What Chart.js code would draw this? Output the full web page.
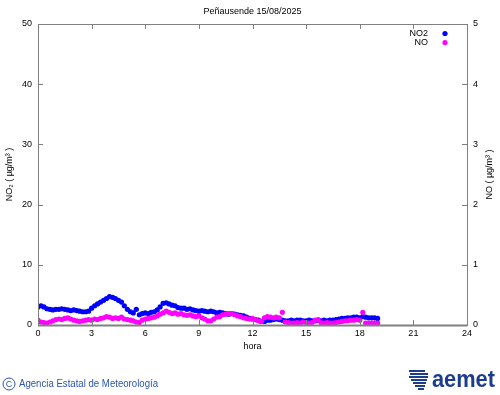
<!DOCTYPE html>
<html>
<head>
<meta charset="utf-8">
<script src="https://cdn.jsdelivr.net/npm/chart.js@4"></script>
<style>
  html, body { margin: 0; padding: 0; background: #fff; }
  #wrap { width: 500px; height: 395px; position: relative; }
</style>
</head>
<body>
<div id="wrap"><canvas id="grafica"></canvas></div>
<script>
// datos cada 10 minutos (hora local)
const horas = [
  0, 0.17, 0.33, 0.5, 0.67, 0.83, 1, 1.17, 1.33, 1.5, 1.67, 1.83,
  2, 2.17, 2.33, 2.5, 2.67, 2.83, 3, 3.17, 3.33, 3.5, 3.67, 3.83,
  4, 4.17, 4.33, 4.5, 4.67, 4.83, 5, 5.17, 5.33, 5.5, 5.67, 5.83,
  6, 6.17, 6.33, 6.5, 6.67, 6.83, 7, 7.17, 7.33, 7.5, 7.67, 7.83,
  8, 8.17, 8.33, 8.5, 8.67, 8.83, 9, 9.17, 9.33, 9.5, 9.67, 9.83,
  10, 10.17, 10.33, 10.5, 10.67, 10.83, 11, 11.17, 11.33, 11.5, 11.67, 11.83,
  12, 12.17, 12.33, 12.5, 12.67, 12.83, 13, 13.17, 13.33, 13.5, 13.67, 13.83,
  14, 14.17, 14.33, 14.5, 14.67, 14.83, 15, 15.17, 15.33, 15.5, 15.67, 15.83,
  16, 16.17, 16.33, 16.5, 16.67, 16.83, 17, 17.17, 17.33, 17.5, 17.67, 17.83,
  18, 18.17, 18.33, 18.5, 18.67, 18.83, 19
];

// NO2 (µg/m3), eje izquierdo
const no2 = [
  3.0, 3.2, 3.0, 2.7, 2.6, 2.5, 2.6, 2.6, 2.7, 2.6, 2.5, 2.4,
  2.5, 2.4, 2.3, 2.2, 2.2, 2.3, 2.8, 3.2, 3.5, 3.8, 4.1, 4.4,
  4.7, 4.6, 4.4, 4.1, 3.8, 3.2, 2.6, 2.2, 2.0, 2.6, 1.7, 1.9,
  2.0, 1.9, 2.1, 2.2, 2.5, 3.0, 3.6, 3.7, 3.5, 3.3, 3.2, 2.9,
  2.8, 2.8, 2.6, 2.7, 2.5, 2.4, 2.3, 2.4, 2.3, 2.2, 2.3, 2.2,
  2.0, 2.1, 2.0, 1.9, 1.8, 1.9, 1.8, 1.7, 1.6, 1.5, 1.3, 1.1,
  1.0, 0.9, 0.8, 0.6, 0.6, 0.8, 0.8, 0.9, 1.0, 0.9, 0.8, 0.7,
  0.7, 0.8, 0.7, 0.8, 0.8, 0.7, 0.7, 0.8, 0.7, 0.7, 0.8, 0.7,
  0.8, 0.7, 0.8, 0.8, 0.9, 1.0, 1.1, 1.1, 1.2, 1.2, 1.3, 1.3,
  1.2, 1.4, 1.3, 1.2, 1.2, 1.2, 1.1
];

// NO (µg/m3), eje derecho
const no = [
  0.08, 0.05, 0.04, 0.03, 0.05, 0.07, 0.09, 0.10, 0.09, 0.11, 0.12, 0.10,
  0.08, 0.07, 0.06, 0.07, 0.08, 0.09, 0.08, 0.10, 0.09, 0.11, 0.12, 0.14,
  0.13, 0.11, 0.12, 0.11, 0.13, 0.10, 0.09, 0.08, 0.07, 0.05, 0.04, 0.08,
  0.10, 0.11, 0.12, 0.13, 0.15, 0.18, 0.20, 0.23, 0.21, 0.19, 0.20, 0.18,
  0.19, 0.17, 0.16, 0.17, 0.15, 0.14, 0.15, 0.12, 0.10, 0.07, 0.07, 0.10,
  0.13, 0.14, 0.17, 0.18, 0.19, 0.19, 0.17, 0.15, 0.14, 0.12, 0.11, 0.10,
  0.11, 0.09, 0.07, 0.06, 0.12, 0.14, 0.13, 0.12, 0.13, 0.12, 0.21, 0.05,
  0.04, 0.03, 0.03, 0.04, 0.03, 0.05, 0.04, 0.03, 0.04, 0.08, 0.09, 0.04,
  0.03, 0.04, 0.03, 0.03, 0.04, 0.05, 0.06, 0.07, 0.07, 0.08, 0.08, 0.09,
  0.08, 0.21, 0.03, 0.03, 0.03, 0.03, 0.03
];

const titulo = 'Peñausende 15/08/2025';
const series = ['NO2', 'NO'];
const colores = ['#0000ff', '#ff00ff'];

const fuente = '"Liberation Sans", Arial, sans-serif';
const gris = '#808080';

// marco, marcas hacia dentro, titulo, leyenda y pie
const extras = {
    id: 'extras',
    afterDraw(chart) {
        const ctx = chart.ctx;
        const a = chart.chartArea;
        const sx = chart.scales.x, sy = chart.scales.y, sy1 = chart.scales.y1;
        ctx.save();

        // marcas
        ctx.strokeStyle = gris;
        ctx.lineWidth = 1;
        ctx.beginPath();
        sx.ticks.forEach(t => {
            const px = Math.round(sx.getPixelForValue(t.value)) + 0.5;
            ctx.moveTo(px, a.bottom); ctx.lineTo(px, a.bottom - 5);
            ctx.moveTo(px, a.top); ctx.lineTo(px, a.top + 5);
        });
        sy.ticks.forEach(t => {
            const py = Math.round(sy.getPixelForValue(t.value)) + 0.5;
            ctx.moveTo(a.left, py); ctx.lineTo(a.left + 5, py);
        });
        sy1.ticks.forEach(t => {
            const py = Math.round(sy1.getPixelForValue(t.value)) + 0.5;
            ctx.moveTo(a.right, py); ctx.lineTo(a.right - 5, py);
        });
        ctx.stroke();

        // marco
        ctx.strokeRect(Math.round(a.left) + 0.5, Math.round(a.top) + 0.5,
            Math.round(a.right - a.left), Math.round(a.bottom - a.top));
        ctx.lineWidth = 2;
        ctx.beginPath();
        ctx.moveTo(a.left, Math.round(a.bottom) + 0.5);
        ctx.lineTo(a.right, Math.round(a.bottom) + 0.5);
        ctx.stroke();

        // titulo
        ctx.fillStyle = '#000';
        ctx.font = '9px ' + fuente;
        ctx.textAlign = 'center';
        ctx.textBaseline = 'middle';
        ctx.fillText(titulo, (a.left + a.right) / 2, 12);

        // titulo eje derecho
        ctx.save();
        ctx.translate(490, (a.top + a.bottom) / 2);
        ctx.rotate(-Math.PI / 2);
        ctx.fillText('NO ( µg/m³ )', 0, 0);
        ctx.restore();

        // leyenda
        ctx.textAlign = 'right';
        series.forEach((s, i) => {
            const y = 33.5 + i * 9;
            ctx.fillStyle = '#000';
            ctx.fillText(s, 428, y);
            ctx.fillStyle = colores[i];
            ctx.beginPath();
            ctx.arc(445, y, 2.6, 0, Math.PI * 2);
            ctx.fill();
        });

        // pie
        ctx.fillStyle = '#2a55b0';
        ctx.strokeStyle = '#2a55b0';
        ctx.lineWidth = 1;
        ctx.beginPath();
        ctx.arc(9, 384, 6, 0, Math.PI * 2);
        ctx.stroke();
        ctx.font = '9px ' + fuente;
        ctx.textAlign = 'center';
        ctx.fillText('C', 9, 384.5);
        ctx.font = '10px ' + fuente;
        ctx.textAlign = 'left';
        ctx.fillText('Agencia Estatal de Meteorología', 19, 384, 139);

        // logo aemet
        ctx.fillStyle = '#1c3d8e';
        ctx.font = 'bold 23px ' + fuente;
        ctx.textBaseline = 'alphabetic';
        ctx.fillText('aemet', 432, 387, 63);
        const rayas = [[409, 370, 16], [410, 373, 18], [409, 376, 19], [411, 379, 16], [413, 382, 13], [415, 385, 10], [418, 388, 6]];
        rayas.forEach(r => ctx.fillRect(r[0], r[1], r[2], 2));
        ctx.restore();
    }
};

new Chart(document.getElementById('grafica'), {
    type: 'scatter',
    data: {
        datasets: [
            {
                label: series[0],
                data: horas.map((h, i) => ({ x: h, y: no2[i] })),
                backgroundColor: colores[0],
                borderWidth: 0,
                pointRadius: 2.6,
                yAxisID: 'y',
                order: 1
            },
            {
                label: series[1],
                data: horas.map((h, i) => ({ x: h, y: no[i] })),
                backgroundColor: colores[1],
                borderWidth: 0,
                pointRadius: 2.6,
                yAxisID: 'y1',
                order: 0
            }
        ]
    },
    options: {
        responsive: true,
        maintainAspectRatio: false,
        animation: false,
        layout: { padding: { top: 24, left: 0, right: 0, bottom: 43 } },
        plugins: {
            legend: { display: false },
            tooltip: { enabled: false }
        },
        scales: {
            x: {
                type: 'linear',
                min: 0,
                max: 24,
                ticks: { stepSize: 3, padding: 3, color: '#000', font: { size: 9, family: fuente } },
                grid: { display: false, drawTicks: false },
                border: { display: false },
                title: { display: true, text: 'hora', color: '#000', padding: 0, font: { size: 9, family: fuente } },
                afterFit: s => { s.height = 27; }
            },
            y: {
                position: 'left',
                min: 0,
                max: 50,
                ticks: { stepSize: 10, padding: 6, color: '#000', font: { size: 9, family: fuente } },
                grid: { display: false, drawTicks: false },
                border: { display: false },
                title: { display: true, text: 'NO₂ ( µg/m³ )', color: '#000', padding: { top: 4, bottom: 0 }, font: { size: 9, family: fuente } },
                afterFit: s => { s.width = 38; }
            },
            y1: {
                position: 'right',
                min: 0,
                max: 5,
                ticks: { stepSize: 1, padding: 6, color: '#000', font: { size: 9, family: fuente } },
                grid: { display: false, drawTicks: false },
                border: { display: false },
                afterFit: s => { s.width = 33; }
            }
        }
    },
    plugins: [extras]
});
</script>
</body>
</html>
